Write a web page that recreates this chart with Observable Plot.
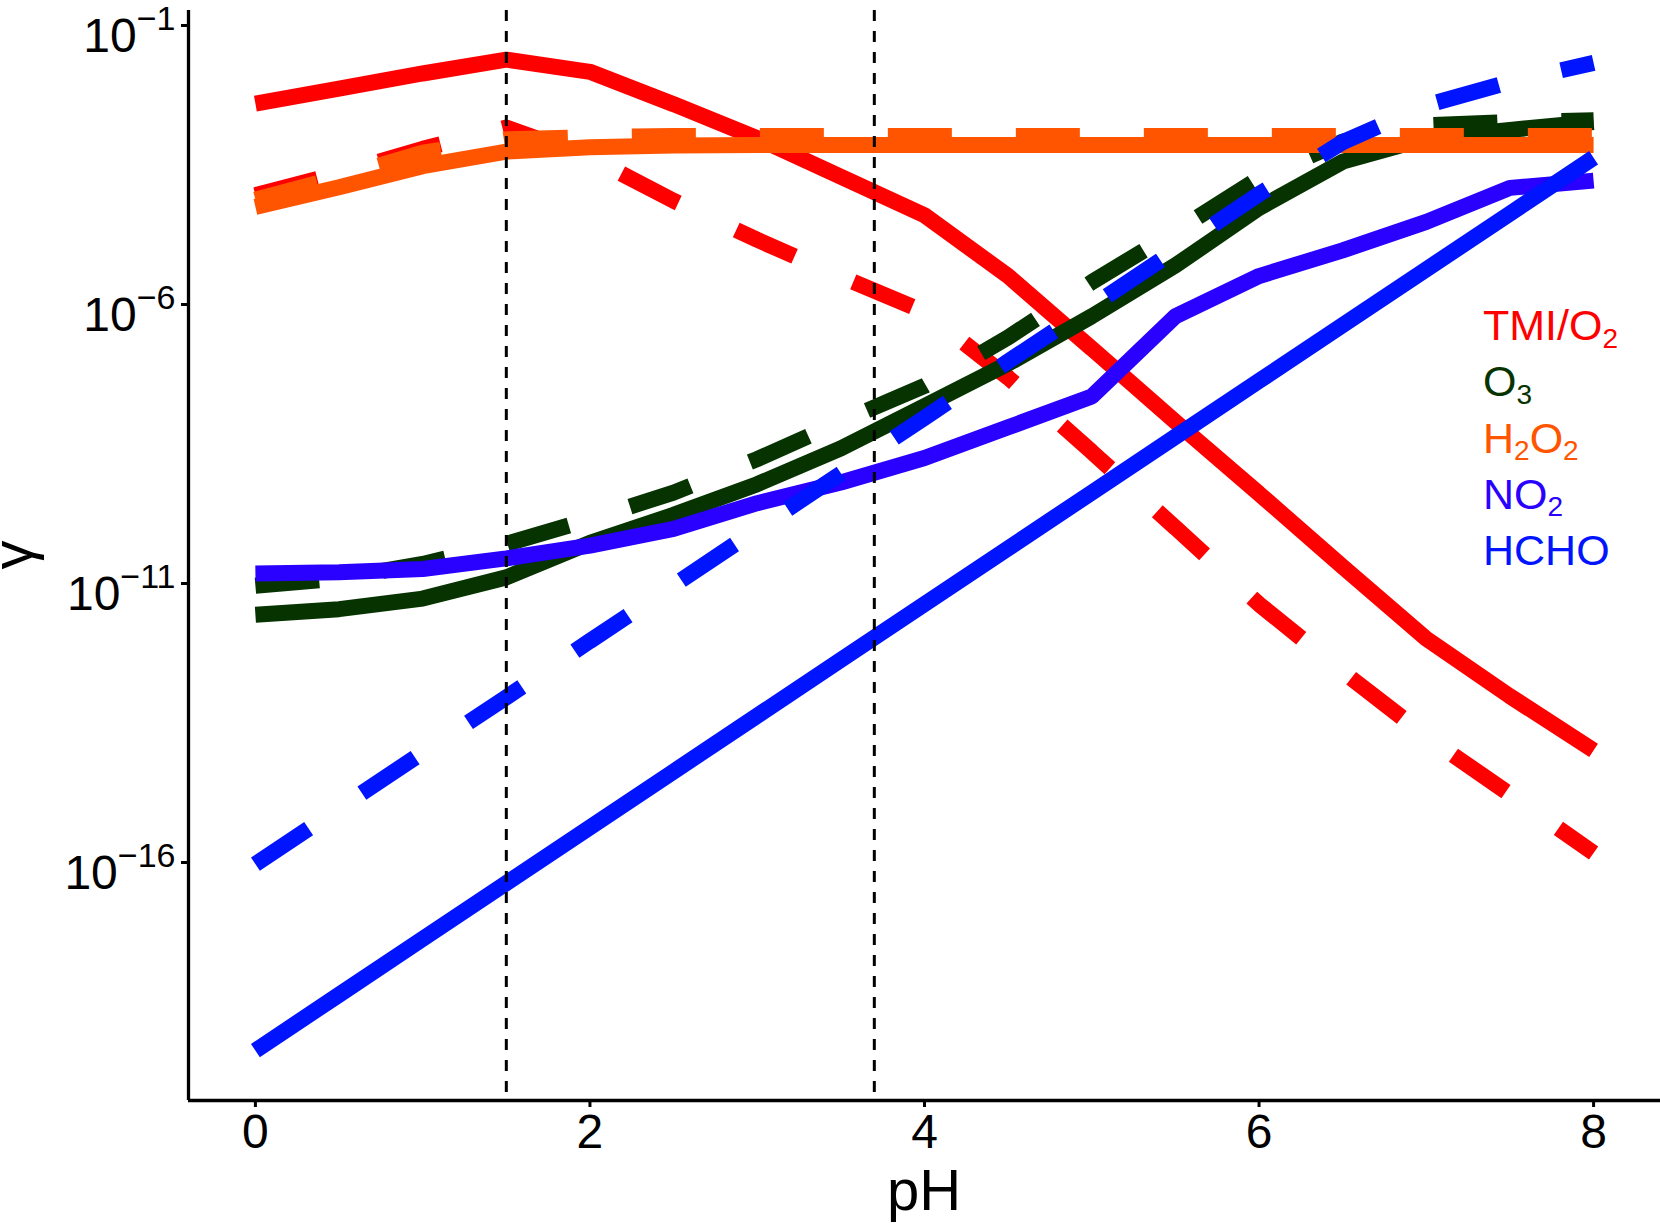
<!DOCTYPE html>
<html>
<head>
<meta charset="utf-8">
<script src="https://cdn.jsdelivr.net/npm/d3@7"></script>
<script src="https://cdn.jsdelivr.net/npm/@observablehq/plot@0.6"></script>
<style>
  html, body { margin: 0; padding: 0; background: #ffffff; }
  #chart svg { display: block; }
</style>
</head>
<body>
<div id="chart"></div>
<script>
// ---- data (log10 of gamma) ----
const pH = [0, 0.5, 1, 1.5, 2, 2.5, 3, 3.5, 4, 4.5, 5, 5.5, 6, 6.5, 7, 7.5, 8];

const tmiSolid   = [-2.40, -2.13, -1.86, -1.61, -1.83, -2.41, -3.02, -3.71, -4.40, -5.49, -6.79, -8.10, -9.39, -10.70, -11.99, -13.02, -13.99];
const tmiDashed  = [-4.04, -3.65, -3.21, -2.83, -3.36, -4.14, -4.84, -5.50, -6.13, -7.31, -8.64, -10.00, -11.37, -12.58, -13.74, -14.78, -15.83];
const o3Solid    = [-11.56, -11.46, -11.27, -10.89, -10.27, -9.77, -9.22, -8.58, -7.82, -7.06, -6.21, -5.30, -4.27, -3.44, -3.02, -2.87, -2.73];
const o3Dashed   = [-11.04, -10.91, -10.65, -10.29, -9.85, -9.37, -8.77, -8.10, -7.46, -6.59, -5.60, -4.69, -3.74, -3.08, -2.79, -2.73, -2.70];
const h2o2Solid  = [-4.25, -3.90, -3.52, -3.26, -3.18, -3.15, -3.14, -3.14, -3.14, -3.14, -3.14, -3.14, -3.14, -3.14, -3.14, -3.14, -3.14];
const h2o2Dashed = [-4.12, -3.72, -3.28, -3.04, -3.00, -2.98, -2.98, -2.98, -2.98, -2.98, -2.98, -2.98, -2.98, -2.98, -2.98, -2.98, -2.98];
const no2Solid   = [-10.82, -10.80, -10.74, -10.55, -10.32, -10.02, -9.56, -9.19, -8.75, -8.20, -7.65, -6.21, -5.49, -5.03, -4.52, -3.91, -3.78];
const hchoSolid  = [-19.37, -18.37, -17.37, -16.37, -15.37, -14.37, -13.37, -12.37, -11.37, -10.37, -9.37, -8.37, -7.37, -6.37, -5.37, -4.37, -3.37];
const hchoDashed = [-16.03, -15.03, -14.03, -13.04, -12.03, -11.03, -10.03, -9.03, -8.03, -7.02, -6.03, -5.03, -4.02, -3.09, -2.43, -2.01, -1.67];

const speciesKeys   = ["TMI/O2", "O3", "H2O2", "NO2", "HCHO"];
const legendLabels  = ["TMI/O_2", "O_3", "H_2O_2", "NO_2", "HCHO"];
const speciesColors = ["#FF0000", "#063300", "#FF5500", "#2A00FF", "#0014FF"];
const solidSeries   = [tmiSolid, o3Solid, h2o2Solid, no2Solid, hchoSolid];
const dashedSeries  = [tmiDashed, o3Dashed, h2o2Dashed, null, hchoDashed];

const phMarkers = [1.5, 3.7];
const xTicks = [0, 2, 4, 6, 8];
const yTickExponents = [-1, -6, -11, -16];

// ---- build table ----
const rows = [];
speciesKeys.forEach((key, k) => {
  [["solid", solidSeries[k]], ["dashed", dashedSeries[k]]].forEach(([style, vals]) => {
    if (!vals) return;
    vals.forEach((e, i) => rows.push({ species: key, style, pH: pH[i], gamma: Math.pow(10, e) }));
  });
});

const xDomain = [-0.4, 8.4];
const yDomain = [Math.pow(10, -20.265), Math.pow(10, -0.731)];

const lineMarks = [];
speciesKeys.forEach((key, k) => {
  ["solid", "dashed"].forEach(style => {
    const data = rows.filter(r => r.species === key && r.style === style);
    if (!data.length) return;
    const opts = {
      x: "pH", y: "gamma",
      stroke: speciesColors[k], strokeWidth: 16,
      strokeLinecap: "butt", strokeLinejoin: "miter"
    };
    if (style === "dashed") opts.strokeDasharray = "64,64";
    lineMarks.push(Plot.line(data, opts));
  });
});

const FONT = "'Liberation Sans', Arial, Helvetica, sans-serif";

const chart = Plot.plot({
  width: 1660,
  height: 1223,
  marginLeft: 188,
  marginRight: 0,
  marginTop: 10,
  marginBottom: 123,
  style: { fontFamily: FONT, fontSize: "48px", color: "black", background: "white", overflow: "visible" },
  x: { domain: xDomain },
  y: { type: "log", domain: yDomain },
  marks: [
    ...lineMarks,
    Plot.ruleX(phMarkers, { stroke: "black", strokeWidth: 3, strokeDasharray: "11,10" }),
    Plot.ruleX([xDomain[0]], { stroke: "black", strokeWidth: 3.3 }),
    Plot.ruleY([yDomain[0]], { stroke: "black", strokeWidth: 3.3 }),
    Plot.axisX({ ticks: xTicks, tickSize: 7, tickPadding: 6, fontSize: 48, strokeWidth: 3, label: null, tickFormat: d => String(d) }),
    Plot.axisY({ ticks: yTickExponents.map(e => Math.pow(10, e)), tickSize: 7, tickPadding: 6, fontSize: 48, strokeWidth: 3, label: null,
                 tickFormat: d => String(Math.round(Math.log10(d))) })
  ]
});

document.getElementById("chart").appendChild(chart);
const svg = d3.select(chart);

// y tick labels: 10 with superscript exponent
svg.selectAll('g[aria-label="y-axis tick label"] text').each(function () {
  const t = d3.select(this);
  const e = t.text().replace("-", "\u2212").replace("\u2212\u2212", "\u2212");
  t.text("");
  t.attr("dy", null).attr("y", 26);
  t.append("tspan").text("10");
  t.append("tspan").attr("font-size", 34).attr("dy", -22).text(e);
});

// axis titles
svg.append("text")
  .attr("x", 924).attr("y", 1210)
  .attr("text-anchor", "middle").attr("font-size", 58).attr("font-family", FONT)
  .attr("fill", "black").text("pH");
svg.append("text")
  .attr("transform", "translate(32,555) rotate(-90)")
  .attr("text-anchor", "middle").attr("font-size", 58).attr("font-family", FONT)
  .attr("fill", "black").text("\u03B3");

// legend with subscripts
const lg = svg.append("g").attr("font-size", 43).attr("font-family", FONT).attr("text-anchor", "start");
legendLabels.forEach((lab, i) => {
  const t = lg.append("text").attr("x", 1483).attr("y", 340 + i * 56.25)
    .attr("text-anchor", "start").attr("fill", speciesColors[i]);
  let sub = false;
  const parts = lab.split(/(_\d)/).filter(s => s.length);
  parts.forEach(p => {
    if (p.startsWith("_")) {
      t.append("tspan").attr("font-size", 28).attr("dy", sub ? 0 : 7.5).text(p.slice(1));
      sub = true;
    } else {
      t.append("tspan").attr("dy", sub ? -7.5 : 0).text(p);
      sub = false;
    }
  });
});
</script>
</body>
</html>
